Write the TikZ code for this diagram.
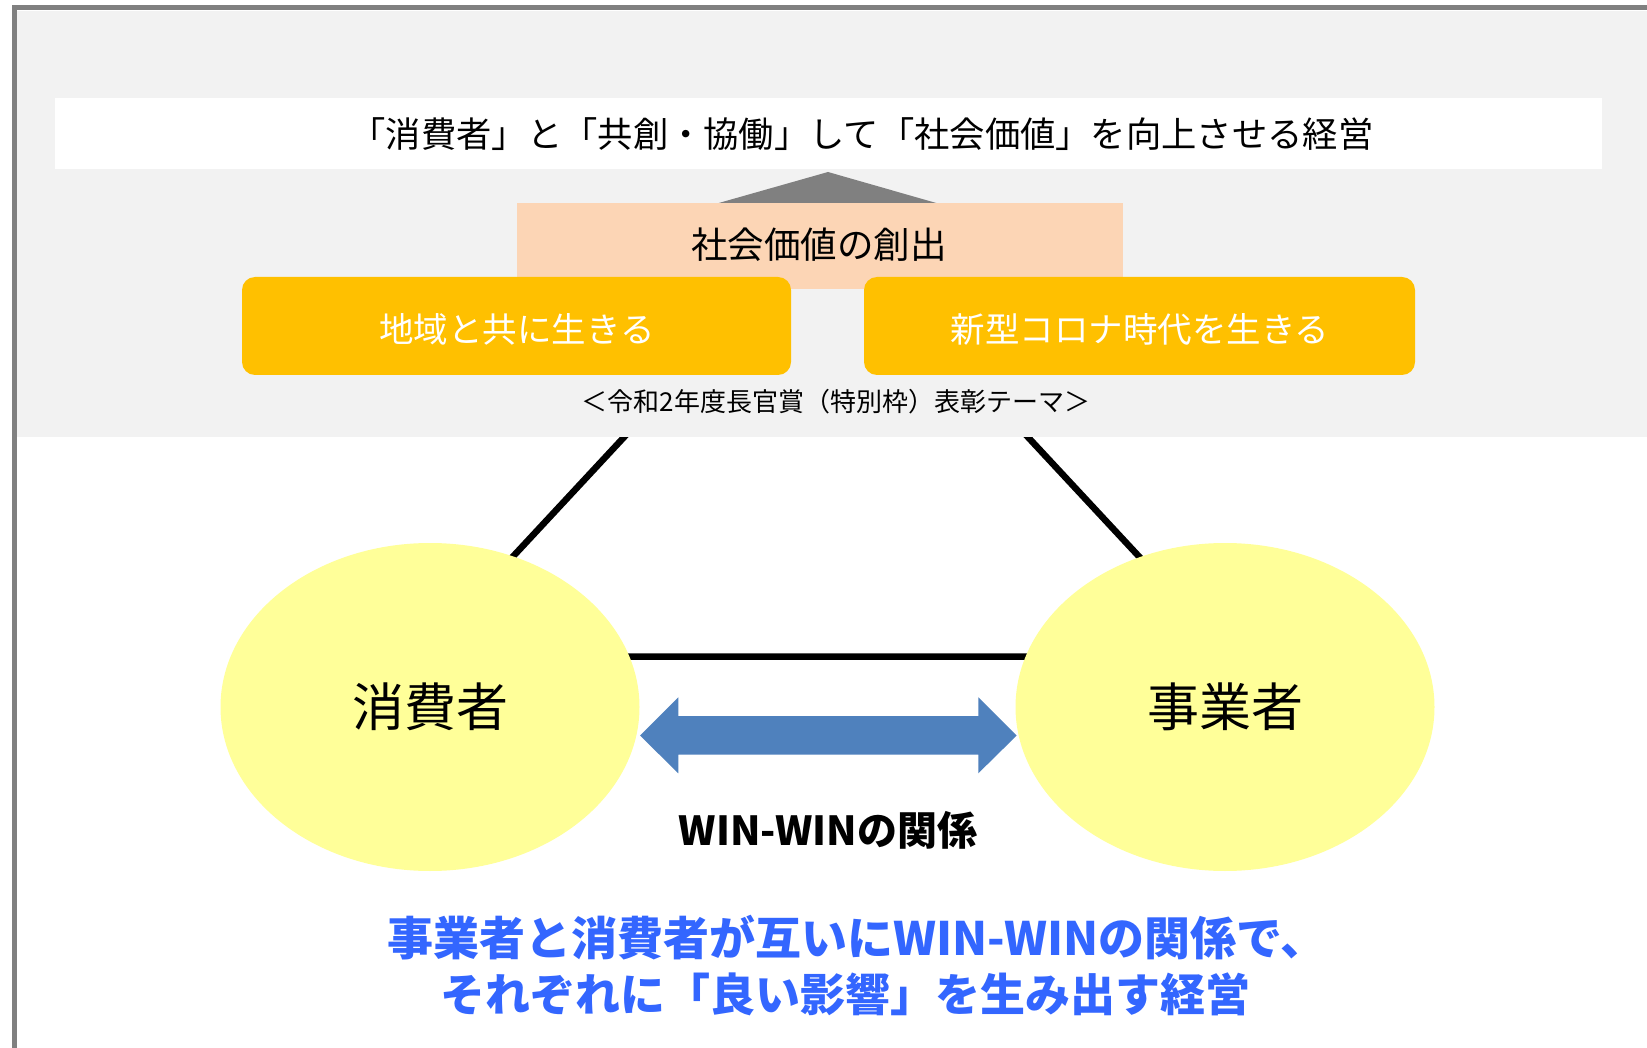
\documentclass[tikz,border=0pt]{standalone}
\usepackage{fontspec}
\setmainfont{Noto Sans CJK JP}
\usetikzlibrary{shapes.geometric}
\definecolor{frameg}{HTML}{808080}
\definecolor{panel}{HTML}{F2F2F2}
\definecolor{peach}{HTML}{FCD5B5}
\definecolor{gold}{HTML}{FFC000}
\definecolor{lemon}{HTML}{FFFF99}
\definecolor{steel}{HTML}{4F81BD}
\definecolor{bluetxt}{HTML}{3366FF}
\begin{document}
\begin{tikzpicture}[x=1pt,y=-1pt,
  lbl/.style={inner sep=0pt, anchor=center},
  goldbox/.style={fill=gold, rounded corners=13pt, inner sep=0pt, minimum height=98pt},
  partner/.style={ellipse, fill=lemon, inner sep=0pt, minimum width=419pt, minimum height=328pt, font=\fontsize{52}{60}\selectfont},
  tri/.style={line width=6.5pt, line join=miter}]
\useasboundingbox (0,0) rectangle (1647,1048);
\fill[white] (0,0) rectangle (1647,1048);
% triangle of relations (top hidden behind the panel)
\coordinate (apex) at (826,220);
\coordinate (vl) at (420,656.5);
\coordinate (vr) at (1232,656.5);
\draw[tri] (apex) -- (vl) -- (vr) -- cycle;
% grey panel and frame
\fill[panel] (16.7,10.7) rectangle (1647,437.5);
\draw[frameg, line width=5pt] (14.3,1048) -- (14.3,8) -- (1647,8);
% banner
\node[fill=white, inner sep=0pt, minimum width=1547pt, minimum height=71pt] (banner) at (828.5,134) {};
\node[lbl, font=\fontsize{35.3}{40}\selectfont] (title) at (862,134) {「消費者」と「共創・協働」して「社会価値」を向上させる経営};
% grey pointer
\fill[frameg] (717,203.5) -- (828,172) -- (938,203.5) -- cycle;
% peach box
\node[fill=peach, inner sep=0pt, minimum width=606pt, minimum height=86pt] (peachbox) at (820,246) {};
\node[lbl, font=\fontsize{36.5}{40}\selectfont] (peachtxt) at (819,245) {社会価値の創出};
% gold boxes
\node[goldbox, minimum width=549pt] (boxl) at (516.5,326) {};
\node[goldbox, minimum width=551pt] (boxr) at (1139.5,326) {};
\node[lbl, text=white, font=\fontsize{34.5}{40}\selectfont] (txtl) at (517,329) {地域と共に生きる};
\node[lbl, text=white, font=\fontsize{34.5}{40}\selectfont] (txtr) at (1140,329) {新型コロナ時代を生きる};
\node[lbl, font=\fontsize{26}{30}\selectfont] (theme) at (836,402) {＜令和2年度長官賞（特別枠）表彰テーマ＞};
% ellipses
\node[partner] (cons) at (430,707) {消費者};
\node[partner] (biz) at (1225,707) {事業者};
% double block arrow
\fill[steel] (640,735.5) -- (678.3,697.3) -- (678.3,716) -- (978.3,716) -- (978.3,697.3) -- (1016.7,735.5) -- (978.3,773.3) -- (978.3,754.7) -- (678.3,754.7) -- (678.3,773.3) -- cycle;
\node[lbl, font=\fontsize{40}{45}\selectfont\bfseries] (win) at (828,830) {WIN-WINの関係};
% bottom message
\node[lbl, text=bluetxt, font=\fontsize{46}{50}\selectfont\bfseries] (msg1) at (857,938) {事業者と消費者が互いにWIN-WINの関係で、};
\node[lbl, text=bluetxt, font=\fontsize{45}{50}\selectfont\bfseries] (msg2) at (845,994) {それぞれに「良い影響」を生み出す経営};
\end{tikzpicture}
\end{document}
